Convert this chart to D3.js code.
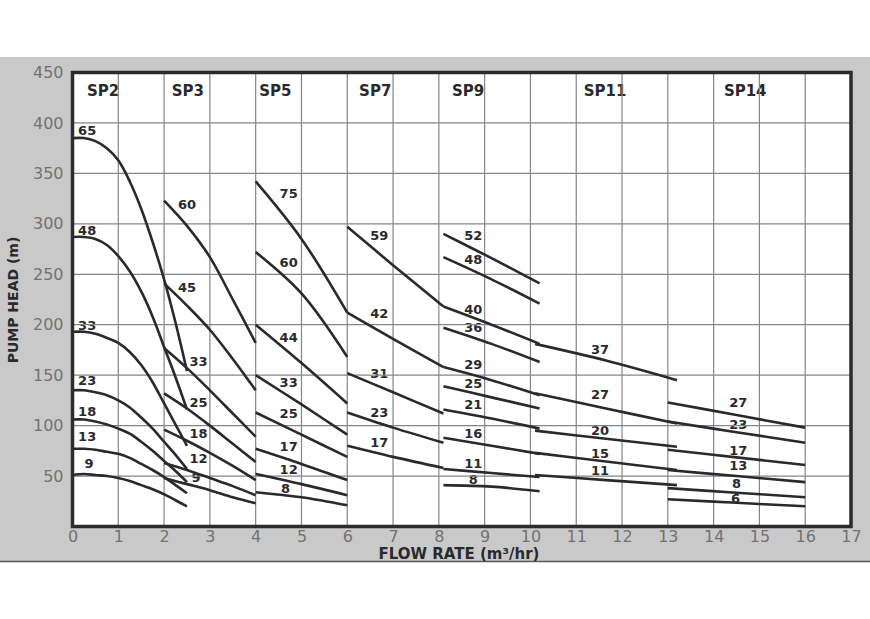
<!DOCTYPE html>
<html>
<head>
<meta charset="utf-8">
<title>Pump curves SP2 - SP14</title>
<script src="https://d3js.org/d3.v7.min.js"></script>
<style>
body { margin: 0; background: #fff; }
</style>
</head>
<body>
<div id="chart"></div>
<script>

// ---- data (flow m3/hr, head m) ----
var flowTicks = [0, 1, 2, 3, 4, 5, 6, 7, 8, 9, 10, 11, 12, 13, 14, 15, 16, 17];
var headTicks = [50, 100, 150, 200, 250, 300, 350, 400, 450];

var groups = ["SP2", "SP3", "SP5", "SP7", "SP9", "SP11", "SP14"];
var groupTitleFlow = [0.67, 2.52, 4.43, 6.61, 8.64, 11.63, 14.69];
var groupTitleHead = 432;

var sp2Flow = [0, 0.25, 0.5, 0.75, 1, 1.25, 1.5, 1.75, 2, 2.25, 2.5];
var sp2Stages = [65, 48, 33, 23, 18, 13, 9];
var sp2Head = [
	[385, 385, 382, 375, 363, 342, 315, 282, 245, 202, 154],
	[287, 287, 285, 279, 268, 253, 233, 208, 178, 148, 116],
	[193, 193, 191, 187, 182, 173, 160, 143, 122, 101, 80],
	[135, 135, 133, 130, 125, 118, 108, 97, 84, 71, 57],
	[106, 106, 104, 101, 97, 92, 84, 75, 65, 55, 44],
	[77, 77, 76, 74, 72, 68, 62, 56, 49, 41, 33],
	[51, 52, 51, 50, 48, 45, 41, 37, 32, 26, 20]
];
var sp2Labels = [[0.32, 393], [0.32, 294], [0.32, 199], [0.32, 145], [0.32, 114], [0.32, 89], [0.36, 63]];

var sp3Flow = [2, 2.5, 3, 3.5, 4];
var sp3Stages = [60, 45, 33, 25, 18, 12, 9];
var sp3Head = [
	[323, 298, 267, 225, 182],
	[241, 219, 195, 166, 135],
	[177, 157, 135, 112, 89],
	[132, 117, 100, 82, 64],
	[96, 85, 73, 60, 46],
	[63, 56, 48, 40, 31],
	[48, 42, 36, 29, 23]
];
var sp3Labels = [[2.5, 319], [2.5, 237], [2.75, 164], [2.75, 123], [2.75, 92], [2.75, 68], [2.7, 49]];

var sp5Flow = [4, 5, 6];
var sp5Stages = [75, 60, 44, 33, 25, 17, 12, 8];
var sp5Head = [
	[342, 285, 212],
	[272, 231, 168],
	[200, 162, 122],
	[150, 121, 91],
	[113, 91, 69],
	[77, 62, 46],
	[52, 42, 31],
	[34, 29, 21]
];
var sp5Labels = [[4.72, 330], [4.72, 262], [4.72, 188], [4.72, 143], [4.72, 112], [4.72, 79], [4.72, 57], [4.65, 38]];

var sp7Flow = [6, 7, 8.1];
var sp7Stages = [59, 42, 31, 23, 17];
var sp7Head = [
	[297, 259, 218],
	[212, 186, 158],
	[152, 133, 112],
	[113, 98, 83],
	[80, 69, 58]
];
var sp7Labels = [[6.7, 289], [6.7, 211], [6.7, 152], [6.7, 113], [6.7, 83]];

var sp9Flow = [8.1, 9.15, 10.2];
var sp9Stages = [52, 48, 40, 36, 29, 25, 21, 16, 11, 8];
var sp9Head = [
	[290, 266, 241],
	[267, 245, 221],
	[218, 200, 181],
	[197, 181, 163],
	[158, 145, 130],
	[139, 128, 117],
	[116, 107, 97],
	[88, 80, 72],
	[57, 53, 49],
	[41, 39.5, 35]
];
var sp9Labels = [[8.75, 289], [8.75, 265], [8.75, 215], [8.75, 197], [8.75, 161], [8.75, 142], [8.75, 121], [8.75, 92], [8.75, 63], [8.75, 47]];

var sp11Flow = [10.1, 11.65, 13.2];
var sp11Stages = [37, 27, 20, 15, 11];
var sp11Head = [
	[181, 164.5, 145],
	[132, 117, 102],
	[95, 87, 79],
	[73, 64.5, 56],
	[51, 46, 41]
];
var sp11Labels = [[11.52, 176], [11.52, 131], [11.52, 95], [11.52, 73], [11.52, 56]];

var sp14Flow = [13, 14.5, 16];
var sp14Stages = [27, 23, 17, 13, 8, 6];
var sp14Head = [
	[123, 110.5, 98],
	[104, 93.5, 83],
	[76, 68.5, 61],
	[56, 50, 44],
	[38, 33.5, 29],
	[27, 23.5, 20]
];
var sp14Labels = [[14.54, 123], [14.54, 101], [14.54, 76], [14.54, 61], [14.5, 43], [14.48, 28]];

// table built from the arrays above
var pumps = [
	{flow: sp2Flow, stages: sp2Stages, head: sp2Head, labels: sp2Labels},
	{flow: sp3Flow, stages: sp3Stages, head: sp3Head, labels: sp3Labels},
	{flow: sp5Flow, stages: sp5Stages, head: sp5Head, labels: sp5Labels},
	{flow: sp7Flow, stages: sp7Stages, head: sp7Head, labels: sp7Labels},
	{flow: sp9Flow, stages: sp9Stages, head: sp9Head, labels: sp9Labels},
	{flow: sp11Flow, stages: sp11Stages, head: sp11Head, labels: sp11Labels},
	{flow: sp14Flow, stages: sp14Stages, head: sp14Head, labels: sp14Labels}
];

var curves = [];
var curveLabels = [];
pumps.forEach(function(p) {
	p.head.forEach(function(row, i) {
		curves.push(row.map(function(h, j) { return [p.flow[j], h]; }));
		curveLabels.push({text: p.stages[i], flow: p.labels[i][0], head: p.labels[i][1]});
	});
});

// ---- drawing ----
var width = 870;
var height = 619;

var x = d3.scaleLinear().domain([0, 17]).range([72.5, 851]);
var y = d3.scaleLinear().domain([0, 450]).range([526.5, 72.5]);

var svg = d3.select("#chart")
	.append("svg")
		.attr("width", width)
		.attr("height", height);

// grey panel
svg.append("rect")
	.attr("x", 0).attr("y", 57)
	.attr("width", width).attr("height", 504)
	.attr("fill", "#c9c9c9");
svg.append("line")
	.attr("x1", 0).attr("x2", width)
	.attr("y1", 561.5).attr("y2", 561.5)
	.attr("stroke", "#5a5a5a")
	.attr("stroke-width", 1.5);

// plot area
svg.append("rect")
	.attr("x", x(0)).attr("y", y(450))
	.attr("width", x(17) - x(0)).attr("height", y(0) - y(450))
	.attr("fill", "#fff");

// group titles
svg.selectAll(".grp")
	.data(groups)
	.enter()
	.append("text")
		.attr("x", function(d, i) { return x(groupTitleFlow[i]); })
		.attr("y", y(groupTitleHead))
		.attr("dy", "0.36em")
		.text(function(d) { return d; })
		.style("text-anchor", "middle")
		.style("font-family", "DejaVu Sans, sans-serif")
		.style("font-weight", "bold")
		.style("font-size", "15px")
		.style("fill", "#2a2a2e");

// stage labels
svg.selectAll(".stage")
	.data(curveLabels)
	.enter()
	.append("text")
		.attr("x", function(d) { return x(d.flow); })
		.attr("y", function(d) { return y(d.head); })
		.attr("dy", "0.36em")
		.text(function(d) { return d.text; })
		.style("text-anchor", "middle")
		.style("font-family", "DejaVu Sans, sans-serif")
		.style("font-weight", "bold")
		.style("font-size", "13px")
		.style("fill", "#2a2a2e");

// grid
var grid = svg.append("g")
	.attr("stroke", "#85858a")
	.attr("stroke-width", 1.2);

grid.selectAll("line.v")
	.data(flowTicks.slice(1, -1))
	.enter()
	.append("line")
		.attr("x1", function(d) { return x(d); })
		.attr("x2", function(d) { return x(d); })
		.attr("y1", y(450))
		.attr("y2", y(0));

grid.selectAll("line.h")
	.data(headTicks.slice(0, -1))
	.enter()
	.append("line")
		.attr("x1", x(0))
		.attr("x2", x(17))
		.attr("y1", function(d) { return y(d); })
		.attr("y2", function(d) { return y(d); });

// pump curves
var line = d3.line()
	.x(function(d) { return x(d[0]); })
	.y(function(d) { return y(d[1]); })
	.curve(d3.curveCatmullRom.alpha(0.5));

svg.append("g")
	.selectAll("path")
	.data(curves)
	.enter()
	.append("path")
		.attr("d", line)
		.attr("fill", "none")
		.attr("stroke", "#2a2a2e")
		.attr("stroke-width", 2.6);

// frame
svg.append("rect")
	.attr("x", x(0)).attr("y", y(450))
	.attr("width", x(17) - x(0)).attr("height", y(0) - y(450))
	.attr("fill", "none")
	.attr("stroke", "#2b2b30")
	.attr("stroke-width", 3.5);

// axes
var xAxis = d3.axisBottom(x).tickValues(flowTicks).tickSize(0).tickPadding(4);
var yAxis = d3.axisLeft(y).tickValues(headTicks).tickSize(0).tickPadding(9);

var gx = svg.append("g")
	.attr("transform", "translate(0," + y(0) + ")")
	.call(xAxis);
var gy = svg.append("g")
	.attr("transform", "translate(" + x(0) + ",0)")
	.call(yAxis);

[gx, gy].forEach(function(g) {
	g.select(".domain").remove();
	g.selectAll("text")
		.style("font-family", "DejaVu Sans, sans-serif")
		.style("font-size", "16px")
		.style("fill", "#727272");
});

// axis titles
svg.append("text")
	.attr("transform", "translate(18," + 300 + ") rotate(-90)")
	.text("PUMP HEAD (m)")
	.style("text-anchor", "middle")
	.style("font-family", "DejaVu Sans, sans-serif")
	.style("font-weight", "bold")
	.style("font-size", "14px")
	.style("fill", "#2a2a2e");

svg.append("text")
	.attr("x", 459)
	.attr("y", 559)
	.text("FLOW RATE (m³/hr)")
	.style("text-anchor", "middle")
	.style("font-family", "DejaVu Sans, sans-serif")
	.style("font-weight", "bold")
	.style("font-size", "15px")
	.style("fill", "#2a2a2e");

</script>
</body>
</html>
